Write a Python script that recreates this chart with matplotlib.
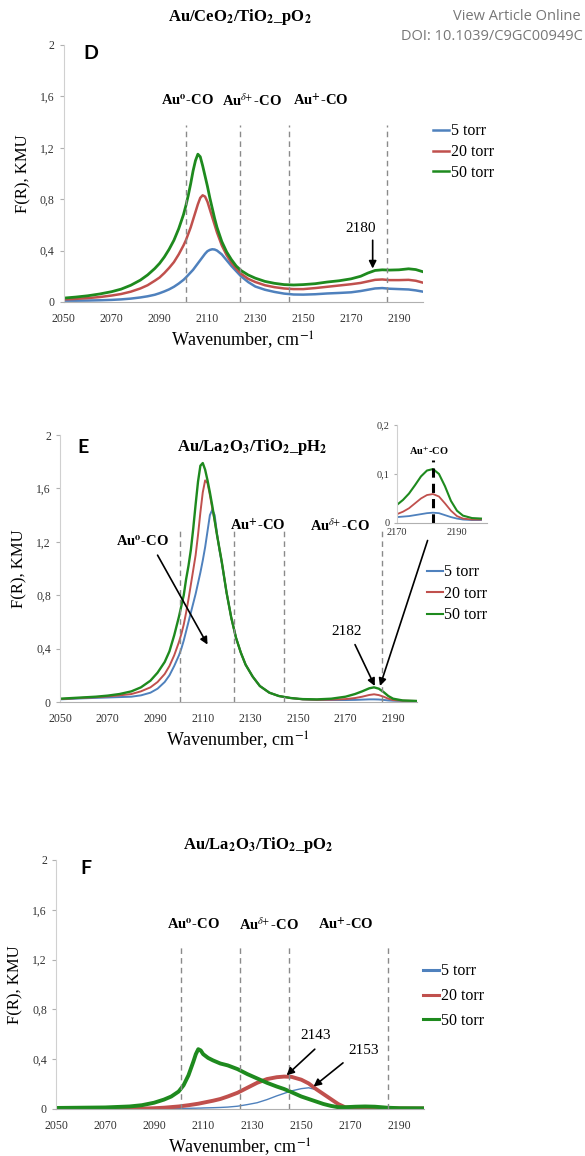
import matplotlib
matplotlib.use("Agg")
import matplotlib.pyplot as plt

plt.rcParams['font.family'] = ['Liberation Serif', 'DejaVu Serif']
plt.rcParams['mathtext.fontset'] = 'stix'

# ---- data ----
series_names = ['5 torr', '20 torr', '50 torr']
series_colors = ['#4F81BD', '#C0504D', '#1E8A1E']

y_ticks = [0, 0.4, 0.8, 1.2, 1.6, 2.0]
y_ticklabels = ['0', '0,4', '0,8', '1,2', '1,6', '2']
x_ticks = [2050, 2070, 2090, 2110, 2130, 2150, 2170, 2190]

# panel D: Au/CeO2/TiO2_pO2
d_wn = [2050, 2055, 2060, 2065, 2070, 2074, 2078, 2082, 2085, 2088,
        2090, 2092, 2094, 2096, 2098, 2100, 2101, 2102, 2103, 2104,
        2105, 2106, 2107, 2108, 2109, 2110, 2111, 2112, 2113, 2114,
        2116, 2118, 2120, 2122, 2124, 2127, 2130, 2134, 2138, 2142,
        2146, 2150, 2155, 2160, 2165, 2170, 2174, 2177, 2180, 2183,
        2186, 2190, 2194, 2197, 2200]
d_5 = [0.01, 0.01, 0.011, 0.013, 0.016, 0.02, 0.026, 0.035, 0.044, 0.056,
       0.068, 0.082, 0.098, 0.118, 0.143, 0.172, 0.19, 0.21, 0.23, 0.25,
       0.275, 0.30, 0.325, 0.35, 0.375, 0.395, 0.405, 0.41, 0.408, 0.40,
       0.37, 0.325, 0.28, 0.24, 0.20, 0.155, 0.12, 0.095, 0.078, 0.065,
       0.058, 0.057, 0.06, 0.066, 0.07, 0.075, 0.085, 0.095, 0.105, 0.108,
       0.103, 0.10, 0.097, 0.09, 0.08]
d_20 = [0.02, 0.024, 0.03, 0.038, 0.05, 0.062, 0.08, 0.105, 0.13, 0.165,
        0.19, 0.225, 0.265, 0.31, 0.37, 0.44, 0.48, 0.53, 0.58, 0.64,
        0.70, 0.76, 0.81, 0.83, 0.82, 0.78, 0.72, 0.66, 0.60, 0.54,
        0.44, 0.365, 0.305, 0.26, 0.22, 0.18, 0.155, 0.13, 0.115, 0.105,
        0.10, 0.10, 0.108, 0.118, 0.128, 0.138, 0.148, 0.16, 0.172, 0.175,
        0.17, 0.17, 0.172, 0.165, 0.15]
d_50 = [0.03, 0.038, 0.048, 0.062, 0.08, 0.10, 0.13, 0.17, 0.21, 0.26,
        0.30, 0.35, 0.41, 0.48, 0.57, 0.68, 0.75, 0.83, 0.92, 1.02,
        1.10, 1.15, 1.13, 1.06, 0.98, 0.90, 0.81, 0.73, 0.65, 0.58,
        0.47, 0.39, 0.33, 0.28, 0.245, 0.21, 0.185, 0.16, 0.145, 0.135,
        0.132, 0.135, 0.142, 0.155, 0.165, 0.18, 0.20, 0.225, 0.245, 0.25,
        0.248, 0.25, 0.258, 0.252, 0.235]

# panel E: Au/La2O3/TiO2_pH2
e_wn = [2050, 2055, 2060, 2065, 2070, 2075, 2080, 2084, 2088, 2091,
        2094, 2096, 2098, 2100, 2101, 2102, 2103, 2104, 2105, 2106,
        2107, 2108, 2109, 2110, 2111, 2112, 2113, 2114, 2115, 2116,
        2117, 2118, 2120, 2122, 2124, 2126, 2128, 2131, 2134, 2138,
        2142, 2147, 2152, 2158, 2164, 2170, 2174, 2177, 2180, 2182,
        2184, 2186, 2188, 2190, 2194, 2200]
e_5 = [0.02, 0.024, 0.028, 0.031, 0.034, 0.037, 0.04, 0.05, 0.07, 0.10,
       0.15, 0.20, 0.27, 0.35, 0.40, 0.46, 0.53, 0.60, 0.67, 0.74,
       0.81, 0.89, 0.97, 1.06, 1.16, 1.28, 1.40, 1.44, 1.40, 1.26,
       1.14, 1.04, 0.82, 0.63, 0.48, 0.37, 0.28, 0.19, 0.12, 0.07,
       0.045, 0.03, 0.02, 0.015, 0.015, 0.015, 0.016, 0.018, 0.02, 0.02,
       0.019, 0.016, 0.012, 0.01, 0.008, 0.007]
e_20 = [0.022, 0.027, 0.032, 0.036, 0.042, 0.05, 0.06, 0.08, 0.11, 0.15,
        0.21, 0.27, 0.35, 0.45, 0.51, 0.58, 0.67, 0.77, 0.88, 0.99,
        1.10, 1.25, 1.42, 1.57, 1.66, 1.64, 1.55, 1.45, 1.36, 1.25,
        1.15, 1.05, 0.82, 0.63, 0.48, 0.37, 0.28, 0.19, 0.12, 0.07,
        0.045, 0.03, 0.02, 0.017, 0.018, 0.022, 0.03, 0.04, 0.053, 0.058,
        0.052, 0.04, 0.025, 0.015, 0.01, 0.008]
e_50 = [0.025, 0.03, 0.035, 0.04, 0.048, 0.06, 0.08, 0.11, 0.16, 0.22,
        0.30, 0.38, 0.50, 0.64, 0.72, 0.80, 0.92, 1.02, 1.14, 1.30,
        1.48, 1.65, 1.77, 1.79, 1.74, 1.66, 1.57, 1.47, 1.36, 1.25,
        1.15, 1.05, 0.82, 0.63, 0.48, 0.37, 0.28, 0.19, 0.12, 0.07,
        0.045, 0.03, 0.022, 0.02, 0.025, 0.04, 0.06, 0.08, 0.103, 0.11,
        0.10, 0.075, 0.045, 0.025, 0.012, 0.008]

# inset of panel E
i_wn = [2170, 2172, 2174, 2176, 2178, 2180, 2182, 2184, 2186, 2188,
        2190, 2192, 2195, 2198]
i_5 = [0.012, 0.013, 0.014, 0.016, 0.018, 0.02, 0.021, 0.02, 0.016, 0.012,
       0.009, 0.007, 0.006, 0.006]
i_20 = [0.018, 0.023, 0.03, 0.04, 0.05, 0.057, 0.059, 0.054, 0.04, 0.025,
        0.014, 0.009, 0.007, 0.007]
i_50 = [0.037, 0.047, 0.06, 0.077, 0.095, 0.107, 0.11, 0.10, 0.075, 0.045,
        0.025, 0.015, 0.01, 0.009]

# panel F: Au/La2O3/TiO2_pO2
f_wn = [2050, 2060, 2070, 2080, 2085, 2090, 2094, 2097, 2100, 2102,
        2104, 2106, 2107, 2108, 2109, 2110, 2112, 2114, 2117, 2120,
        2124, 2128, 2132, 2136, 2140, 2143, 2146, 2150, 2153, 2156,
        2159, 2162, 2165, 2168, 2172, 2176, 2180, 2185, 2190, 2200]
f_5 = [0.0, 0.0, 0.0, 0.001, 0.001, 0.002, 0.002, 0.003, 0.004, 0.004,
       0.005, 0.006, 0.006, 0.007, 0.007, 0.008, 0.009, 0.01, 0.012, 0.015,
       0.022, 0.035, 0.05, 0.075, 0.105, 0.125, 0.145, 0.163, 0.17, 0.155,
       0.12, 0.075, 0.035, 0.012, 0.008, 0.007, 0.006, 0.005, 0.004, 0.004]
f_20 = [0.0, 0.0, 0.001, 0.002, 0.003, 0.006, 0.01, 0.015, 0.02, 0.025,
        0.03, 0.036, 0.039, 0.042, 0.046, 0.05, 0.058, 0.066, 0.08, 0.10,
        0.13, 0.17, 0.21, 0.24, 0.255, 0.26, 0.258, 0.235, 0.205, 0.16,
        0.12, 0.08, 0.04, 0.012, 0.01, 0.01, 0.01, 0.006, 0.004, 0.004]
f_50 = [0.008, 0.01, 0.012, 0.02, 0.03, 0.05, 0.075, 0.10, 0.14, 0.19,
        0.27, 0.38, 0.44, 0.48, 0.47, 0.44, 0.41, 0.39, 0.365, 0.35,
        0.32, 0.28, 0.245, 0.21, 0.18, 0.16, 0.135, 0.10, 0.08, 0.06,
        0.04, 0.025, 0.014, 0.014, 0.018, 0.02, 0.018, 0.01, 0.006, 0.005]

d_bands = [2101, 2123.5, 2144, 2185]
e_bands = [2100.5, 2123, 2144, 2185.5]
f_bands = [2101, 2125, 2145, 2185.5]

fig = plt.figure(figsize=(5.85, 11.56), dpi=100)

bold_sub = r'$_\mathbf{2}$'
sup0 = r'$^\mathbf{o}$'
supd = r'$^{\delta\!\!+}$'
supp = r'$^\mathbf{+}$'


def style_axes(ax):
    ax.set_xlim(2050, 2200)
    ax.set_ylim(0, 2)
    ax.set_yticks(y_ticks)
    ax.set_yticklabels(y_ticklabels)
    ax.set_xticks(x_ticks)
    for s in ['top', 'right']:
        ax.spines[s].set_visible(False)
    ax.spines['left'].set_color('#d0d0d0')
    ax.spines['bottom'].set_color('#b0b0b0')
    ax.tick_params(axis='both', labelsize=8.5, color='#b0b0b0', length=3,
                   labelcolor='#333333')
    ax.tick_params(axis='x', length=0, pad=8)
    ax.set_xlabel(r'Wavenumber, cm$^{-1}$', fontsize=13, labelpad=3)
    ax.set_ylabel('F(R), KMU', fontsize=12, labelpad=6)


def draw_lines(ax, wn, ys, widths):
    for y, c, n, w in zip(ys, series_colors, series_names, widths):
        ax.plot(wn, y, color=c, lw=w, label=n, solid_joinstyle='round')


def draw_bands(ax, xs, top):
    for x in xs:
        ax.plot([x, x], [0, top], color='#8a8a8a', lw=1, ls=(0, (4, 3)))


def add_legend(ax, x, y, lw, spacing):
    leg = ax.legend(loc='upper left', bbox_to_anchor=(x, y), frameon=False,
                    fontsize=11.5, handlelength=1.0, handletextpad=0.1,
                    labelspacing=spacing, borderaxespad=0)
    for line in leg.get_lines():
        line.set_linewidth(lw)


arrow = dict(arrowstyle='-|>', color='black', lw=1.2, mutation_scale=11,
             shrinkA=0, shrinkB=0)
band_font = dict(ha='center', va='center', fontsize=10.5, fontweight='bold')
title_font = dict(ha='center', va='center', fontsize=12, fontweight='bold')

# ---- panel D ----
axD = fig.add_axes([0.109, 0.7388, 0.614, 0.2223])
style_axes(axD)
draw_lines(axD, d_wn, [d_5, d_20, d_50], [1.8, 1.8, 2.0])
draw_bands(axD, d_bands, 1.38)
for x, t in zip([2101.5, 2128.5, 2157.5],
                ['Au' + sup0 + '-CO', 'Au' + supd + '-CO', 'Au' + supp + '-CO']):
    axD.text(x, 1.57, t, **band_font)
axD.text(0.055, 0.965, 'D', transform=axD.transAxes, fontsize=14,
         fontweight='bold', family='Lato', va='center')
axD.text(0.49, 1.11, 'Au/CeO' + bold_sub + '/TiO' + bold_sub + '_pO' + bold_sub,
         transform=axD.transAxes, **title_font)
axD.annotate('', xy=(2179, 0.26), xytext=(2179, 0.48), arrowprops=arrow)
axD.text(2174, 0.57, '2180', ha='center', va='center', fontsize=11)
add_legend(axD, 1.01, 0.72, 1.8, 0.3)

# ---- panel E ----
axE = fig.add_axes([0.1026, 0.3927, 0.610, 0.231])
style_axes(axE)
draw_lines(axE, e_wn, [e_5, e_20, e_50], [1.4, 1.4, 1.7])
draw_bands(axE, e_bands, 1.28)
axE.text(2084.5, 1.2, 'Au' + sup0 + '-CO', **band_font)
axE.text(2133, 1.32, 'Au' + supp + '-CO', **band_font)
axE.text(2167.5, 1.32, 'Au' + supd + '-CO', **band_font)
axE.text(0.05, 0.955, 'E', transform=axE.transAxes, fontsize=14,
         fontweight='bold', family='Lato', va='center')
axE.text(0.54, 0.955, 'Au/La' + bold_sub + r'O$_\mathbf{3}$/TiO' + bold_sub + '_pH' + bold_sub,
         transform=axE.transAxes, **title_font)
axE.annotate('', xy=(2112, 0.43), xytext=(2091, 1.1), arrowprops=arrow)
axE.annotate('', xy=(2182.3, 0.12), xytext=(2174, 0.43), arrowprops=arrow)
axE.text(2170.5, 0.53, '2182', ha='center', va='center', fontsize=11)
axE.annotate('', xy=(2184.5, 0.12), xytext=(2204.5, 1.21),
             arrowprops=arrow, annotation_clip=False)
add_legend(axE, 1.01, 0.54, 1.5, 0.35)

# inset
axI = fig.add_axes([0.6786, 0.5476, 0.1538, 0.0848])
axI.set_xlim(2170, 2200)
axI.set_ylim(0, 0.2)
axI.set_xticks([2170, 2190])
axI.set_yticks([0, 0.1, 0.2])
axI.set_yticklabels(['0', '0,1', '0,2'])
for s in ['top', 'right']:
    axI.spines[s].set_visible(False)
axI.spines['left'].set_color('#d0d0d0')
axI.spines['bottom'].set_color('#b0b0b0')
axI.tick_params(axis='both', labelsize=7.5, color='#b0b0b0', length=2,
                labelcolor='#333333')
axI.tick_params(axis='x', length=0)
axI.patch.set_alpha(0)
draw_lines(axI, i_wn, [i_5, i_20, i_50], [1.3, 1.3, 1.5])
axI.plot([2182, 2182], [0, 0.128], color='black', lw=2.2, ls=(0, (3, 2)))
axI.text(2180.5, 0.135, 'Au' + supp + '-CO', ha='center', va='bottom',
         fontsize=7.5, fontweight='bold')

# ---- panel F ----
axF = fig.add_axes([0.0957, 0.0407, 0.629, 0.2154])
style_axes(axF)
draw_lines(axF, f_wn, [f_5, f_20, f_50], [1.0, 2.8, 2.8])
draw_bands(axF, f_bands, 1.3)
for x, t in zip([2106, 2137, 2168],
                ['Au' + sup0 + '-CO', 'Au' + supd + '-CO', 'Au' + supp + '-CO']):
    axF.text(x, 1.48, t, **band_font)
axF.text(0.065, 0.965, 'F', transform=axF.transAxes, fontsize=14,
         fontweight='bold', family='Lato', va='center')
axF.text(0.55, 1.06, 'Au/La' + bold_sub + r'O$_\mathbf{3}$/TiO' + bold_sub + '_pO' + bold_sub,
         transform=axF.transAxes, **title_font)
axF.annotate('', xy=(2144, 0.27), xytext=(2155.5, 0.48), arrowprops=arrow)
axF.text(2156, 0.59, '2143', ha='center', va='center', fontsize=11)
axF.annotate('', xy=(2155, 0.18), xytext=(2167, 0.37), arrowprops=arrow)
axF.text(2175.5, 0.47, '2153', ha='center', va='center', fontsize=11)
add_legend(axF, 0.98, 0.61, 2.2, 0.55)

# publisher header
fig.text(0.993, 0.992, 'View Article Online', ha='right', va='top',
         fontsize=10.5, color='#777777', family='Open Sans')
fig.text(0.997, 0.975, 'DOI: 10.1039/C9GC00949C', ha='right', va='top',
         fontsize=10.5, color='#777777', family='Open Sans')

fig.savefig('out.png', dpi=100)
